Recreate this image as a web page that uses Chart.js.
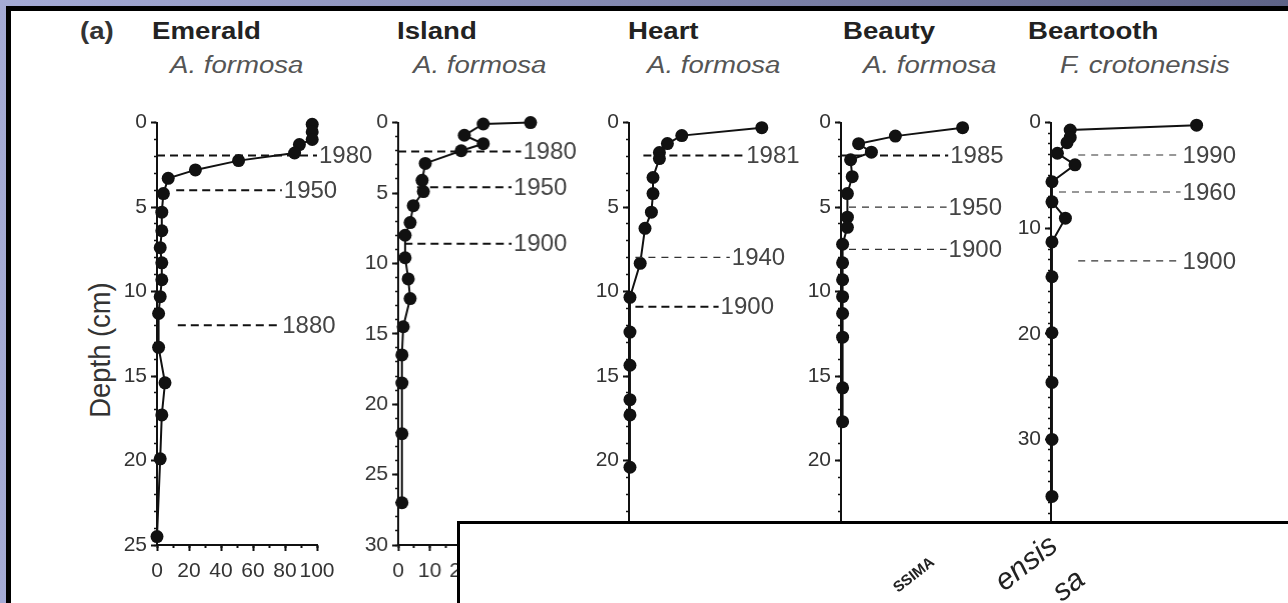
<!DOCTYPE html>
<html>
<head>
<meta charset="utf-8">
<script src="https://cdn.jsdelivr.net/npm/chart.js@4.4.0/dist/chart.umd.min.js"></script>
<style>
  html, body { margin: 0; padding: 0; width: 1288px; height: 603px; overflow: hidden; }
  body { position: relative; background: linear-gradient(to right, #a5abd6, #5e6387); font-family: "Liberation Sans", Arial, sans-serif; }
  #frame { position: absolute; left: 6px; top: 6px; width: 1400px; height: 700px; background: #fff; border-left: 5px solid #000; border-top: 5px solid #000; }
  .t { position: absolute; white-space: nowrap; line-height: 1; transform-origin: 0 0; transform: scaleX(1.2); }
  .title { font-size: 23px; font-weight: bold; color: #222; top: 20px; }
  .sub { font-size: 23px; font-style: italic; color: #555; top: 54px; }
  #ylab { position: absolute; left: 100px; top: 350px; font-size: 24px; color: #333; white-space: nowrap; line-height: 1;
          transform: translate(-50%, -50%) rotate(-90deg) scale(1.14, 1.2); }
  canvas.panel { position: absolute; }
  #inset { position: absolute; left: 457px; top: 521px; width: 900px; height: 420px; background: #fff;
           border-left: 3px solid #000; border-top: 3px solid #000; z-index: 5; }
  #inset canvas { position: absolute; left: 0; top: 0; }
</style>
</head>
<body>
<div id="frame"></div>
<div class="t title" style="left:80px;color:#333">(a)</div>
<div class="t title" style="left:152px">Emerald</div>
<div class="t title" style="left:397px">Island</div>
<div class="t title" style="left:628px">Heart</div>
<div class="t title" style="left:843px">Beauty</div>
<div class="t title" style="left:1028px">Beartooth</div>
<div class="t sub" style="left:170px">A. formosa</div>
<div class="t sub" style="left:413px">A. formosa</div>
<div class="t sub" style="left:647px">A. formosa</div>
<div class="t sub" style="left:863px">A. formosa</div>
<div class="t sub" style="left:1060px">F. crotonensis</div>
<div id="ylab">Depth (cm)</div>
<div id="inset"><canvas id="insetChart" width="900" height="420"></canvas></div>

<script>
const FONT = '"Liberation Sans", Arial, sans-serif';

// Emerald - A. formosa (%) against depth (cm)
const emeraldX = [97, 97, 97, 89, 86, 51, 24, 7, 4, 3, 3, 2, 3, 3, 2, 1, 1, 5, 3, 2, 0];
const emeraldDepth = [0.1, 0.55, 1.0, 1.3, 1.8, 2.25, 2.8, 3.3, 4.2, 5.3, 6.4, 7.4, 8.3, 9.3, 10.3, 11.3, 13.3, 15.4, 17.3, 19.9, 24.5];
const emeraldYears = ['1980', '1950', '1880'];
const emeraldYearDepth = [1.95, 4.0, 12.0];
const emeraldYearSpan = [[0, 100], [12, 78], [13, 77]];

// Island
const islandX = [42, 27, 21, 27, 20, 8.6, 7.6, 8, 4.8, 3.8, 2.2, 2.2, 3.2, 3.8, 1.6, 1.2, 1.2, 1.2, 1.2];
const islandDepth = [0, 0.1, 0.9, 1.5, 2.0, 2.9, 4.1, 4.9, 5.9, 7.1, 8.0, 9.6, 11.1, 12.5, 14.5, 16.5, 18.5, 22.1, 27.0];
const islandYears = ['1980', '1950', '1900'];
const islandYearDepth = [2.05, 4.6, 8.6];
const islandYearSpan = [[0, 39], [6, 36], [2, 36]];

// Heart
const heartX = [83, 33, 24, 19, 19, 15, 15, 14, 10, 7, 0.6, 0.6, 0.6, 0.6, 0.6, 0.6];
const heartDepth = [0.3, 0.77, 1.24, 1.77, 2.13, 3.25, 4.2, 5.3, 6.26, 8.33, 10.34, 12.4, 14.36, 16.4, 17.3, 20.4];
const heartYears = ['1981', '1940', '1900'];
const heartYearDepth = [1.95, 7.98, 10.9];
const heartYearSpan = [[9, 72], [4, 63], [4, 56]];

// Beauty
const beautyX = [76, 34, 11, 19, 6, 7, 4, 4, 4, 1, 1, 1, 1, 1, 1, 1, 1];
const beautyDepth = [0.3, 0.8, 1.25, 1.75, 2.2, 3.2, 4.2, 5.6, 6.2, 7.2, 8.3, 9.3, 10.3, 11.3, 12.7, 15.7, 17.7];
const beautyYears = ['1985', '1950', '1900'];
const beautyYearDepth = [1.95, 5.0, 7.5];
const beautyYearSpan = [[0, 67], [5, 66], [5, 66]];

// Beartooth - F. crotonensis
const beartoothX = [91, 12, 12, 10, 4, 15, 0.6, 0.6, 9, 0.6, 0.6, 0.6, 0.6, 0.6, 0.6];
const beartoothDepth = [0.24, 0.7, 1.4, 1.9, 2.9, 4.0, 5.6, 7.5, 9.05, 11.3, 14.6, 19.9, 24.6, 30.0, 35.4];
const beartoothYears = ['1990', '1960', '1900'];
const beartoothYearDepth = [3.07, 6.57, 13.1];
const beartoothYearSpan = [[17, 81], [5, 81], [17, 81]];

// second figure below: only the tail ends of three rotated species labels are visible
const insetTails = ['SSIMA', 'ensis', 'sa'];
const insetSlots = [27, 37, 43];     // category index of each label
const insetLead = [31, 15, 13];      // hidden part of the label (runs off the page)
const INSET_SLOTS = 70;

const insetLabels = Array.from({ length: INSET_SLOTS }, () => '');
insetTails.forEach((txt, i) => { insetLabels[insetSlots[i]] = '\u00a0'.repeat(insetLead[i]) + txt; });
const insetValues = insetLabels.map(() => null);

// layout of the five panels
const panels = [
  { x: emeraldX, d: emeraldDepth, years: emeraldYears, yd: emeraldYearDepth, span: emeraldYearSpan,
    thin: [false, false, false], axisX: 157, plotW: 160, xMax: 100, xStep: 20, yMax: 25, yStep: 5 },
  { x: islandX, d: islandDepth, years: islandYears, yd: islandYearDepth, span: islandYearSpan,
    thin: [false, false, false], axisX: 398, plotW: 157.5, xMax: 50, xStep: 10, yMax: 30, yStep: 5 },
  { x: heartX, d: heartDepth, years: heartYears, yd: heartYearDepth, span: heartYearSpan,
    thin: [false, true, false], axisX: 629, plotW: 160, xMax: 100, xStep: 20, yMax: 25, yStep: 5 },
  { x: beautyX, d: beautyDepth, years: beautyYears, yd: beautyYearDepth, span: beautyYearSpan,
    thin: [false, true, true], axisX: 841, plotW: 160, xMax: 100, xStep: 20, yMax: 25, yStep: 5 },
  { x: beartoothX, d: beartoothDepth, years: beartoothYears, yd: beartoothYearDepth, span: beartoothYearSpan,
    thin: [true, true, true], axisX: 1051, plotW: 160, xMax: 100, xStep: 20, yMax: 40, yStep: 10 }
];

const PAD_TOP = 16, PLOT_H = 423, X_AXIS_H = 40, Y_AXIS_W = 50, PAD_RIGHT = 90;

// writes the year at the right end of each dashed line
const yearLabels = {
  id: 'yearLabels',
  afterDatasetsDraw(chart) {
    const ctx = chart.ctx;
    chart.data.datasets.forEach((ds, i) => {
      if (!ds.year) return;
      const pts = chart.getDatasetMeta(i).data;
      const end = pts[pts.length - 1];
      ctx.save();
      ctx.font = '24px ' + FONT;
      ctx.fillStyle = '#444';
      ctx.textAlign = 'left';
      ctx.textBaseline = 'middle';
      ctx.fillText(ds.year, end.x + 2, end.y + 1);
      ctx.restore();
    });
  }
};

function makePanel(p) {
  const canvas = document.createElement('canvas');
  const w = Y_AXIS_W + p.plotW + PAD_RIGHT;
  const h = PAD_TOP + PLOT_H + X_AXIS_H;
  canvas.width = w;
  canvas.height = h;
  canvas.className = 'panel';
  canvas.style.left = (p.axisX - Y_AXIS_W) + 'px';
  canvas.style.top = (122 - PAD_TOP) + 'px';
  canvas.style.width = w + 'px';
  canvas.style.height = h + 'px';
  document.body.appendChild(canvas);

  const datasets = [];
  p.years.forEach((yr, i) => {
    datasets.push({
      year: yr,
      data: [{ x: p.span[i][0], y: p.yd[i] }, { x: p.span[i][1], y: p.yd[i] }],
      showLine: true,
      borderColor: p.thin[i] ? '#333' : '#111',
      borderWidth: p.thin[i] ? 1.2 : 2,
      borderDash: p.thin[i] ? [7, 6] : [8, 5],
      pointRadius: 0,
      clip: false
    });
  });
  datasets.push({
    data: p.x.map((v, i) => ({ x: v, y: p.d[i] })),
    showLine: true,
    borderColor: '#111',
    borderWidth: 2,
    pointRadius: 6.5,
    pointBackgroundColor: '#111',
    pointBorderWidth: 0,
    clip: false
  });

  const tickFont = { family: FONT, size: 21 };
  new Chart(canvas, {
    type: 'scatter',
    data: { datasets: datasets },
    plugins: [yearLabels],
    options: {
      responsive: false,
      animation: false,
      devicePixelRatio: 1,
      layout: { padding: { top: PAD_TOP, right: PAD_RIGHT, left: 0, bottom: 0 } },
      plugins: { legend: { display: false }, tooltip: { enabled: false } },
      scales: {
        x: {
          type: 'linear', position: 'bottom', min: 0, max: p.xMax, weight: 1,
          afterFit: s => { s.height = X_AXIS_H; },
          ticks: { stepSize: p.xStep, color: '#333', font: tickFont, padding: 8, maxRotation: 0, autoSkip: false },
          grid: { drawOnChartArea: false, tickLength: 6, tickWidth: 2, tickColor: '#111' },
          border: { color: '#111', width: 2 }
        },
        xMinor: {
          type: 'linear', position: 'bottom', min: 0, max: p.xMax, weight: 0,
          afterFit: s => { s.height = 0; },
          ticks: { stepSize: p.xStep / 2, display: false },
          grid: { drawOnChartArea: false, tickLength: 3, tickWidth: 2, tickColor: '#111' },
          border: { display: false }
        },
        y: {
          type: 'linear', position: 'left', reverse: true, min: 0, max: p.yMax, weight: 1,
          afterFit: s => { s.width = Y_AXIS_W; },
          ticks: { stepSize: p.yStep, color: '#333', font: tickFont, padding: 4, autoSkip: false },
          grid: { drawOnChartArea: false, tickLength: 6, tickWidth: 2, tickColor: '#111' },
          border: { color: '#111', width: 2 }
        },
        yMinor: {
          type: 'linear', position: 'left', reverse: true, min: 0, max: p.yMax, weight: 0,
          afterFit: s => { s.width = 0; },
          ticks: { stepSize: 1, display: false },
          grid: { drawOnChartArea: false, tickLength: 3, tickWidth: 1.5, tickColor: '#111' },
          border: { display: false }
        }
      }
    }
  });
}

panels.forEach(makePanel);

// the inset figure that covers the lower right corner
new Chart(document.getElementById('insetChart'), {
  type: 'bar',
  data: { labels: insetLabels, datasets: [{ data: insetValues, backgroundColor: '#444' }] },
  options: {
    responsive: false,
    animation: false,
    devicePixelRatio: 1,
    layout: { padding: { left: 6, right: 54, top: 0, bottom: 0 } },
    plugins: { legend: { display: false }, tooltip: { enabled: false } },
    scales: {
      x: {
        position: 'top',
        grid: { display: false },
        border: { display: false },
        ticks: {
          autoSkip: false, minRotation: 38, maxRotation: 38, padding: 4, color: '#222',
          font: ctx => ctx.index === insetSlots[0]
            ? { family: FONT, size: 15, weight: 'bold' }
            : { family: FONT, size: 30, style: 'italic' }
        }
      },
      y: { display: false }
    }
  }
});
</script>
</body>
</html>
